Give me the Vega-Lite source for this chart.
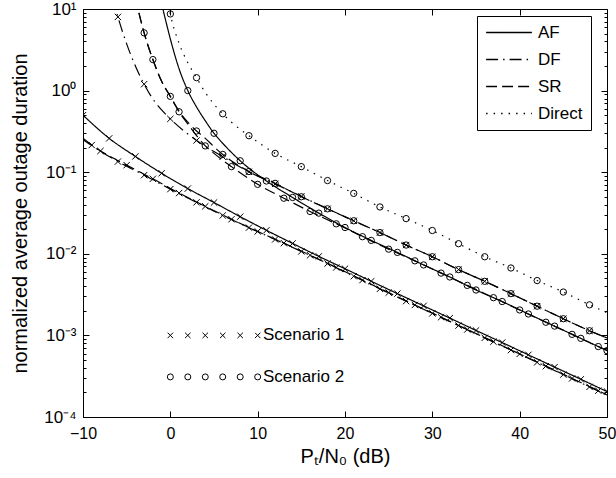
{
  "$schema": "https://vega.github.io/schema/vega-lite/v6.json",
  "autosize": {"type": "none"},
  "width": 524,
  "height": 408,
  "padding": {"left": 83, "top": 9, "right": 9, "bottom": 61},
  "background": "white",
  "config": {
    "view": {"stroke": null},
    "font": "Liberation Sans",
    "axis": {"domainColor": "#000", "tickColor": "#000", "labelColor": "#000", "titleColor": "#000", "labelFont": "Liberation Sans", "titleFont": "Liberation Sans", "labelFontSize": 16, "titleFontSize": 19, "titleFontWeight": "normal", "grid": false, "domainWidth": 1, "tickWidth": 1, "labelFlush": false}
  },
  "datasets": {
    "curves": [
      {"s":"a1","t":"AF","x":-10,"y":0.5,"m":"x"},
      {"s":"a1","t":"AF","x":-7,"y":0.26,"m":"x"},
      {"s":"a1","t":"AF","x":-4,"y":0.156,"m":"x"},
      {"s":"a1","t":"AF","x":-1,"y":0.097,"m":"x"},
      {"s":"a1","t":"AF","x":2,"y":0.063,"m":"x"},
      {"s":"a1","t":"AF","x":5,"y":0.0425,"m":"x"},
      {"s":"a1","t":"AF","x":8,"y":0.0285,"m":"x"},
      {"s":"a1","t":"AF","x":11,"y":0.0194,"m":"x"},
      {"s":"a1","t":"AF","x":14,"y":0.0134,"m":"x"},
      {"s":"a1","t":"AF","x":17,"y":0.0093,"m":"x"},
      {"s":"a1","t":"AF","x":20,"y":0.00656,"m":"x"},
      {"s":"a1","t":"AF","x":23,"y":0.00461,"m":"x"},
      {"s":"a1","t":"AF","x":26,"y":0.00325,"m":"x"},
      {"s":"a1","t":"AF","x":29,"y":0.0023,"m":"x"},
      {"s":"a1","t":"AF","x":32,"y":0.00163,"m":"x"},
      {"s":"a1","t":"AF","x":35,"y":0.00115,"m":"x"},
      {"s":"a1","t":"AF","x":38,"y":0.000817,"m":"x"},
      {"s":"a1","t":"AF","x":41,"y":0.000578,"m":"x"},
      {"s":"a1","t":"AF","x":44,"y":0.000409,"m":"x"},
      {"s":"a1","t":"AF","x":47,"y":0.00029,"m":"x"},
      {"s":"a1","t":"AF","x":50,"y":0.000205,"m":"x"},

      {"s":"d1","t":"DF","x":-10,"y":0.26,"m":""},
      {"s":"d1","t":"DF","x":-9,"y":0.215,"m":"x"},
      {"s":"d1","t":"DF","x":-6,"y":0.135,"m":"x"},
      {"s":"d1","t":"DF","x":-3,"y":0.092,"m":"x"},
      {"s":"d1","t":"DF","x":0,"y":0.062,"m":"x"},
      {"s":"d1","t":"DF","x":3,"y":0.0427,"m":"x"},
      {"s":"d1","t":"DF","x":6,"y":0.0295,"m":"x"},
      {"s":"d1","t":"DF","x":9,"y":0.0209,"m":"x"},
      {"s":"d1","t":"DF","x":12,"y":0.015,"m":"x"},
      {"s":"d1","t":"DF","x":15,"y":0.0107,"m":"x"},
      {"s":"d1","t":"DF","x":18,"y":0.00759,"m":"x"},
      {"s":"d1","t":"DF","x":21,"y":0.00531,"m":"x"},
      {"s":"d1","t":"DF","x":24,"y":0.00372,"m":"x"},
      {"s":"d1","t":"DF","x":27,"y":0.00263,"m":"x"},
      {"s":"d1","t":"DF","x":30,"y":0.00186,"m":"x"},
      {"s":"d1","t":"DF","x":33,"y":0.00132,"m":"x"},
      {"s":"d1","t":"DF","x":36,"y":0.000933,"m":"x"},
      {"s":"d1","t":"DF","x":39,"y":0.000661,"m":"x"},
      {"s":"d1","t":"DF","x":42,"y":0.000468,"m":"x"},
      {"s":"d1","t":"DF","x":45,"y":0.000331,"m":"x"},
      {"s":"d1","t":"DF","x":48,"y":0.000234,"m":"x"},
      {"s":"d1","t":"DF","x":50,"y":0.000186,"m":""},

      {"s":"r1","t":"SR","x":-10,"y":0.25,"m":""},
      {"s":"r1","t":"SR","x":-8,"y":0.182,"m":"x"},
      {"s":"r1","t":"SR","x":-5,"y":0.122,"m":"x"},
      {"s":"r1","t":"SR","x":-2,"y":0.083,"m":"x"},
      {"s":"r1","t":"SR","x":1,"y":0.0555,"m":"x"},
      {"s":"r1","t":"SR","x":4,"y":0.0382,"m":"x"},
      {"s":"r1","t":"SR","x":7,"y":0.0265,"m":"x"},
      {"s":"r1","t":"SR","x":10,"y":0.0188,"m":"x"},
      {"s":"r1","t":"SR","x":13,"y":0.0135,"m":"x"},
      {"s":"r1","t":"SR","x":16,"y":0.0096,"m":"x"},
      {"s":"r1","t":"SR","x":19,"y":0.0068,"m":"x"},
      {"s":"r1","t":"SR","x":22,"y":0.00476,"m":"x"},
      {"s":"r1","t":"SR","x":25,"y":0.00334,"m":"x"},
      {"s":"r1","t":"SR","x":28,"y":0.00236,"m":"x"},
      {"s":"r1","t":"SR","x":31,"y":0.00167,"m":"x"},
      {"s":"r1","t":"SR","x":34,"y":0.00118,"m":"x"},
      {"s":"r1","t":"SR","x":37,"y":0.000838,"m":"x"},
      {"s":"r1","t":"SR","x":40,"y":0.000593,"m":"x"},
      {"s":"r1","t":"SR","x":43,"y":0.00042,"m":"x"},
      {"s":"r1","t":"SR","x":46,"y":0.000297,"m":"x"},
      {"s":"r1","t":"SR","x":49,"y":0.00021,"m":"x"},
      {"s":"r1","t":"SR","x":50,"y":0.000186,"m":""},

      {"s":"a2","t":"AF","x":-1.1,"y":13.5,"m":""},
      {"s":"a2","t":"AF","x":-0.85,"y":10,"m":""},
      {"s":"a2","t":"AF","x":-0.5,"y":7.0,"m":""},
      {"s":"a2","t":"AF","x":0,"y":4.3,"m":""},
      {"s":"a2","t":"AF","x":1,"y":1.85,"m":""},
      {"s":"a2","t":"AF","x":2,"y":1.0,"m":"o"},
      {"s":"a2","t":"AF","x":3,"y":0.63,"m":""},
      {"s":"a2","t":"AF","x":4,"y":0.427,"m":""},
      {"s":"a2","t":"AF","x":5,"y":0.3,"m":"o"},
      {"s":"a2","t":"AF","x":6,"y":0.226,"m":""},
      {"s":"a2","t":"AF","x":8,"y":0.138,"m":"o"},
      {"s":"a2","t":"AF","x":11,"y":0.078,"m":"o"},
      {"s":"a2","t":"AF","x":14,"y":0.049,"m":"o"},
      {"s":"a2","t":"AF","x":17,"y":0.0315,"m":"o"},
      {"s":"a2","t":"AF","x":20,"y":0.021,"m":"o"},
      {"s":"a2","t":"AF","x":23,"y":0.0146,"m":"o"},
      {"s":"a2","t":"AF","x":26,"y":0.0104,"m":"o"},
      {"s":"a2","t":"AF","x":29,"y":0.0073,"m":"o"},
      {"s":"a2","t":"AF","x":32,"y":0.0052,"m":"o"},
      {"s":"a2","t":"AF","x":35,"y":0.0036,"m":"o"},
      {"s":"a2","t":"AF","x":38,"y":0.0026,"m":"o"},
      {"s":"a2","t":"AF","x":41,"y":0.00183,"m":"o"},
      {"s":"a2","t":"AF","x":44,"y":0.0013,"m":"o"},
      {"s":"a2","t":"AF","x":47,"y":0.00092,"m":"o"},
      {"s":"a2","t":"AF","x":50,"y":0.00065,"m":"o"},

      {"s":"r3","t":"SR","x":-4,"y":14,"m":""},
      {"s":"r3","t":"SR","x":-3.7,"y":10,"m":""},
      {"s":"r3","t":"SR","x":-3,"y":5.1,"m":""},
      {"s":"r3","t":"SR","x":-2,"y":2.4,"m":"o"},
      {"s":"r3","t":"SR","x":-1,"y":1.3,"m":""},
      {"s":"r3","t":"SR","x":0,"y":0.85,"m":""},
      {"s":"r3","t":"SR","x":1,"y":0.55,"m":"o"},
      {"s":"r3","t":"SR","x":2,"y":0.39,"m":""},
      {"s":"r3","t":"SR","x":3,"y":0.28,"m":""},
      {"s":"r3","t":"SR","x":4,"y":0.21,"m":"o"},
      {"s":"r3","t":"SR","x":5,"y":0.17,"m":""},
      {"s":"r3","t":"SR","x":6,"y":0.14,"m":""},
      {"s":"r3","t":"SR","x":7,"y":0.117,"m":"o"},
      {"s":"r3","t":"SR","x":10,"y":0.071,"m":"o"},
      {"s":"r3","t":"SR","x":13,"y":0.048,"m":"o"},
      {"s":"r3","t":"SR","x":16,"y":0.033,"m":"o"},
      {"s":"r3","t":"SR","x":19,"y":0.0233,"m":"o"},
      {"s":"r3","t":"SR","x":22,"y":0.0162,"m":"o"},
      {"s":"r3","t":"SR","x":25,"y":0.0114,"m":"o"},
      {"s":"r3","t":"SR","x":28,"y":0.0082,"m":"o"},
      {"s":"r3","t":"SR","x":31,"y":0.0058,"m":"o"},
      {"s":"r3","t":"SR","x":34,"y":0.0041,"m":"o"},
      {"s":"r3","t":"SR","x":37,"y":0.0029,"m":"o"},
      {"s":"r3","t":"SR","x":40,"y":0.00205,"m":"o"},
      {"s":"r3","t":"SR","x":43,"y":0.00145,"m":"o"},
      {"s":"r3","t":"SR","x":46,"y":0.00103,"m":"o"},
      {"s":"r3","t":"SR","x":49,"y":0.00073,"m":"o"},
      {"s":"r3","t":"SR","x":50,"y":0.00066,"m":""},

      {"s":"r2","t":"SR","x":-4,"y":14,"m":""},
      {"s":"r2","t":"SR","x":-3.7,"y":10,"m":""},
      {"s":"r2","t":"SR","x":-3,"y":5.1,"m":"o"},
      {"s":"r2","t":"SR","x":-2,"y":2.4,"m":""},
      {"s":"r2","t":"SR","x":-1,"y":1.3,"m":""},
      {"s":"r2","t":"SR","x":0,"y":0.85,"m":"o"},
      {"s":"r2","t":"SR","x":1,"y":0.56,"m":""},
      {"s":"r2","t":"SR","x":2,"y":0.41,"m":""},
      {"s":"r2","t":"SR","x":3,"y":0.32,"m":"o"},
      {"s":"r2","t":"SR","x":4,"y":0.26,"m":""},
      {"s":"r2","t":"SR","x":5,"y":0.205,"m":""},
      {"s":"r2","t":"SR","x":6,"y":0.165,"m":"o"},
      {"s":"r2","t":"SR","x":9,"y":0.102,"m":"o"},
      {"s":"r2","t":"SR","x":12,"y":0.073,"m":"o"},
      {"s":"r2","t":"SR","x":15,"y":0.05,"m":"o"},
      {"s":"r2","t":"SR","x":18,"y":0.0356,"m":"o"},
      {"s":"r2","t":"SR","x":21,"y":0.0254,"m":"o"},
      {"s":"r2","t":"SR","x":24,"y":0.0182,"m":"o"},
      {"s":"r2","t":"SR","x":27,"y":0.0128,"m":"o"},
      {"s":"r2","t":"SR","x":30,"y":0.0092,"m":"o"},
      {"s":"r2","t":"SR","x":33,"y":0.0064,"m":"o"},
      {"s":"r2","t":"SR","x":36,"y":0.0046,"m":"o"},
      {"s":"r2","t":"SR","x":39,"y":0.00325,"m":"o"},
      {"s":"r2","t":"SR","x":42,"y":0.00228,"m":"o"},
      {"s":"r2","t":"SR","x":45,"y":0.0016,"m":"o"},
      {"s":"r2","t":"SR","x":48,"y":0.00114,"m":"o"},
      {"s":"r2","t":"SR","x":50,"y":0.00093,"m":""},

      {"s":"d2","t":"DF","x":-6.6,"y":13.8,"m":""},
      {"s":"d2","t":"DF","x":-6.3,"y":10.4,"m":""},
      {"s":"d2","t":"DF","x":-6,"y":8.0,"m":"x"},
      {"s":"d2","t":"DF","x":-5,"y":3.74,"m":""},
      {"s":"d2","t":"DF","x":-4,"y":2.0,"m":""},
      {"s":"d2","t":"DF","x":-3,"y":1.2,"m":"x"},
      {"s":"d2","t":"DF","x":-2,"y":0.79,"m":""},
      {"s":"d2","t":"DF","x":-1,"y":0.58,"m":""},
      {"s":"d2","t":"DF","x":0,"y":0.45,"m":"x"},
      {"s":"d2","t":"DF","x":3,"y":0.245,"m":"x"},
      {"s":"d2","t":"DF","x":6,"y":0.155,"m":"x"},
      {"s":"d2","t":"DF","x":9,"y":0.101,"m":"x"},
      {"s":"d2","t":"DF","x":12,"y":0.072,"m":"x"},
      {"s":"d2","t":"DF","x":15,"y":0.0505,"m":"x"},
      {"s":"d2","t":"DF","x":18,"y":0.0356,"m":"x"},
      {"s":"d2","t":"DF","x":21,"y":0.0254,"m":"x"},
      {"s":"d2","t":"DF","x":24,"y":0.0182,"m":"x"},
      {"s":"d2","t":"DF","x":27,"y":0.0128,"m":"x"},
      {"s":"d2","t":"DF","x":30,"y":0.0092,"m":"x"},
      {"s":"d2","t":"DF","x":33,"y":0.0064,"m":"x"},
      {"s":"d2","t":"DF","x":36,"y":0.0046,"m":"x"},
      {"s":"d2","t":"DF","x":39,"y":0.00325,"m":"x"},
      {"s":"d2","t":"DF","x":42,"y":0.00228,"m":"x"},
      {"s":"d2","t":"DF","x":45,"y":0.0016,"m":"x"},
      {"s":"d2","t":"DF","x":48,"y":0.00114,"m":"x"},
      {"s":"d2","t":"DF","x":50,"y":0.00093,"m":""},

      {"s":"n2","t":"Direct","x":-0.35,"y":13.8,"m":""},
      {"s":"n2","t":"Direct","x":-0.15,"y":10.5,"m":""},
      {"s":"n2","t":"Direct","x":0,"y":8.7,"m":"o"},
      {"s":"n2","t":"Direct","x":1,"y":3.8,"m":""},
      {"s":"n2","t":"Direct","x":2,"y":2.2,"m":""},
      {"s":"n2","t":"Direct","x":3,"y":1.44,"m":"o"},
      {"s":"n2","t":"Direct","x":4,"y":0.95,"m":""},
      {"s":"n2","t":"Direct","x":5,"y":0.68,"m":""},
      {"s":"n2","t":"Direct","x":6,"y":0.52,"m":"o"},
      {"s":"n2","t":"Direct","x":7,"y":0.41,"m":""},
      {"s":"n2","t":"Direct","x":8,"y":0.335,"m":""},
      {"s":"n2","t":"Direct","x":9,"y":0.28,"m":"o"},
      {"s":"n2","t":"Direct","x":12,"y":0.17,"m":"o"},
      {"s":"n2","t":"Direct","x":15,"y":0.117,"m":"o"},
      {"s":"n2","t":"Direct","x":18,"y":0.079,"m":"o"},
      {"s":"n2","t":"Direct","x":21,"y":0.055,"m":"o"},
      {"s":"n2","t":"Direct","x":24,"y":0.0375,"m":"o"},
      {"s":"n2","t":"Direct","x":27,"y":0.027,"m":"o"},
      {"s":"n2","t":"Direct","x":30,"y":0.0193,"m":"o"},
      {"s":"n2","t":"Direct","x":33,"y":0.0133,"m":"o"},
      {"s":"n2","t":"Direct","x":36,"y":0.0092,"m":"o"},
      {"s":"n2","t":"Direct","x":39,"y":0.0067,"m":"o"},
      {"s":"n2","t":"Direct","x":42,"y":0.0047,"m":"o"},
      {"s":"n2","t":"Direct","x":45,"y":0.0034,"m":"o"},
      {"s":"n2","t":"Direct","x":48,"y":0.00237,"m":"o"},
      {"s":"n2","t":"Direct","x":50,"y":0.0019,"m":""}
    ],
    "scen": [
      {"x":0,"y":0.001,"m":"x"},{"x":2,"y":0.001,"m":"x"},{"x":4,"y":0.001,"m":"x"},{"x":6,"y":0.001,"m":"x"},{"x":8,"y":0.001,"m":"x"},{"x":10,"y":0.001,"m":"x"},
      {"x":0,"y":0.00031,"m":"o"},{"x":2,"y":0.00031,"m":"o"},{"x":4,"y":0.00031,"m":"o"},{"x":6,"y":0.00031,"m":"o"},{"x":8,"y":0.00031,"m":"o"},{"x":10,"y":0.00031,"m":"o"}
    ],
    "scentext": [
      {"x":10.6,"y":0.001,"label":"Scenario 1"},
      {"x":10.6,"y":0.00031,"label":"Scenario 2"}
    ]
  },
  "resolve": {"axis": {"x": "independent", "y": "independent"}},
  "layer": [
    {
      "data": {"name": "curves"},
      "mark": {"type": "line", "color": "black", "strokeWidth": 1.2, "interpolate": "monotone", "clip": true},
      "encoding": {
        "x": {"field": "x", "type": "quantitative", "scale": {"domain": [-10, 50], "nice": false},
          "axis": {"orient": "bottom", "values": [-10, 0, 10, 20, 30, 40, 50], "ticks": false, "labelPadding": 8, "title": "Pₜ/N₀ (dB)", "titleFontSize": 20, "titlePadding": 5}},
        "y": {"field": "y", "type": "quantitative", "scale": {"type": "log", "domain": [0.0001, 10], "nice": false},
          "axis": {"orient": "left", "values": [0.0001, 0.001, 0.01, 0.1, 1, 10], "ticks": false, "labelPadding": 7, "labelFontSize": 17,
            "labelExpr": "datum.value > 5 ? '10¹' : datum.value > 0.5 ? '10⁰' : datum.value > 0.05 ? '10⁻¹' : datum.value > 0.005 ? '10⁻²' : datum.value > 0.0005 ? '10⁻³' : '10⁻⁴'",
            "title": "normalized average outage duration", "titleFontSize": 20, "titlePadding": 13}},
        "strokeDash": {"field": "t", "type": "nominal",
          "scale": {"domain": ["AF", "DF", "SR", "Direct"], "range": [[1, 0], [12, 5, 1.5, 5], [11, 5], [1.5, 6]]},
          "legend": {"title": null, "orient": "none", "legendX": 394, "legendY": 7, "symbolType": "stroke", "symbolSize": 2100, "symbolStrokeWidth": 1.3, "symbolStrokeColor": "black", "labelFontSize": 17, "labelFont": "Liberation Sans", "labelColor": "black", "strokeColor": "black", "fillColor": "white", "padding": 8, "rowPadding": 9, "clipHeight": 17, "labelOffset": 5, "cornerRadius": 0}},
        "detail": {"field": "s", "type": "nominal"}
      }
    },
    {
      "data": {"name": "curves"},
      "transform": [{"filter": "datum.m != ''"}],
      "mark": {"type": "point", "filled": false, "color": "black", "strokeWidth": 1, "size": 40, "opacity": 1, "clip": true},
      "encoding": {
        "x": {"field": "x", "type": "quantitative", "scale": {"domain": [-10, 50], "nice": false},
          "axis": {"orient": "bottom", "values": [-10, 0, 10, 20, 30, 40, 50], "tickSize": -6, "labels": false, "domain": false, "title": null}},
        "y": {"field": "y", "type": "quantitative", "scale": {"type": "log", "domain": [0.0001, 10], "nice": false},
          "axis": {"orient": "left", "values": [0.0001, 0.001, 0.01, 0.1, 1, 10], "tickSize": -6, "labels": false, "domain": false, "title": null}},
        "shape": {"field": "m", "type": "nominal", "scale": {"domain": ["o", "x"], "range": ["circle", "M-1,-1L1,1M-1,1L1,-1"]}, "legend": null}
      }
    },
    {
      "data": {"name": "scen"},
      "transform": [{"filter": "datum.m == 'x'"}],
      "mark": {"type": "point", "filled": false, "color": "black", "strokeWidth": 1, "size": 30, "opacity": 1, "shape": "M-1,-1L1,1M-1,1L1,-1"},
      "encoding": {
        "x": {"field": "x", "type": "quantitative", "scale": {"domain": [-10, 50], "nice": false},
          "axis": {"orient": "top", "values": [-10, 0, 10, 20, 30, 40, 50], "tickSize": -6, "labels": false, "domain": true, "title": null}},
        "y": {"field": "y", "type": "quantitative", "scale": {"type": "log", "domain": [0.0001, 10], "nice": false},
          "axis": {"orient": "left", "values": [0.0002,0.0003,0.0004,0.0005,0.0006,0.0007,0.0008,0.0009,0.002,0.003,0.004,0.005,0.006,0.007,0.008,0.009,0.02,0.03,0.04,0.05,0.06,0.07,0.08,0.09,0.2,0.3,0.4,0.5,0.6,0.7,0.8,0.9,2,3,4,5,6,7,8,9], "tickSize": -3, "labels": false, "domain": false, "title": null}}
      }
    },
    {
      "data": {"name": "scen"},
      "transform": [{"filter": "datum.m == 'o'"}],
      "mark": {"type": "point", "filled": false, "color": "black", "strokeWidth": 1, "size": 36, "opacity": 1, "shape": "circle"},
      "encoding": {
        "x": {"field": "x", "type": "quantitative", "scale": {"domain": [-10, 50], "nice": false}, "axis": null},
        "y": {"field": "y", "type": "quantitative", "scale": {"type": "log", "domain": [0.0001, 10], "nice": false},
          "axis": {"orient": "right", "values": [0.0002,0.0003,0.0004,0.0005,0.0006,0.0007,0.0008,0.0009,0.002,0.003,0.004,0.005,0.006,0.007,0.008,0.009,0.02,0.03,0.04,0.05,0.06,0.07,0.08,0.09,0.2,0.3,0.4,0.5,0.6,0.7,0.8,0.9,2,3,4,5,6,7,8,9], "tickSize": -3, "labels": false, "domain": false, "title": null}}
      }
    },
    {
      "data": {"name": "scentext"},
      "mark": {"type": "text", "align": "left", "baseline": "middle", "fontSize": 17, "font": "Liberation Sans", "color": "black"},
      "encoding": {
        "x": {"field": "x", "type": "quantitative", "scale": {"domain": [-10, 50], "nice": false}, "axis": null},
        "y": {"field": "y", "type": "quantitative", "scale": {"type": "log", "domain": [0.0001, 10], "nice": false},
          "axis": {"orient": "right", "values": [0.0001, 0.001, 0.01, 0.1, 1, 10], "tickSize": -6, "labels": false, "domain": true, "title": null}},
        "text": {"field": "label", "type": "nominal"}
      }
    }
  ]
}
